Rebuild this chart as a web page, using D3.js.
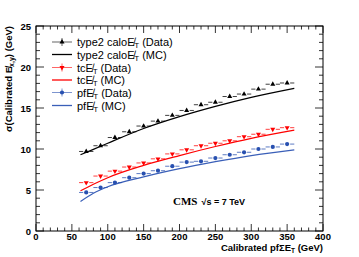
<!DOCTYPE html>
<html>
<head>
<meta charset="utf-8">
<script src="https://cdn.jsdelivr.net/npm/d3@7"></script>
<style>
  body { margin: 0; background: #fff; }
  svg { font-family: "Liberation Sans", Arial, sans-serif; }
</style>
</head>
<body>
<svg id="chart" width="359" height="257"></svg>
<script>
// bin centres of the data points (bin width 20)
const binCenters = [70, 90, 110, 130, 150, 170, 190, 210, 230, 250, 270, 290, 310, 330, 350];
const caloData = [9.7, 10.4, 11.4, 12.1, 12.8, 13.4, 14.1, 14.7, 15.4, 15.7, 16.4, 16.7, 17.3, 17.9, 18.05];
const tcData   = [5.9, 6.7, 7.3, 7.8, 8.3, 8.8, 9.4, 9.9, 10.4, 10.7, 11.0, 11.5, 11.8, 12.4, 12.6];
const pfData   = [4.7, 5.3, 5.9, 6.5, 7.0, 7.35, 7.9, 8.4, 8.5, 8.9, 9.3, 9.6, 10.0, 10.25, 10.6];

// MC curves read at a few points
const mcX    = [62, 80, 100, 150, 200, 250, 300, 360];
const caloMC = [9.3, 9.95, 10.7, 12.5, 13.95, 15.2, 16.3, 17.4];
const tcMC   = [4.9, 5.7, 6.5, 8.0, 9.2, 10.3, 11.3, 12.3];
const pfMC   = [3.6, 4.6, 5.4, 6.6, 7.6, 8.45, 9.2, 9.9];

const xTicks = [0, 50, 100, 150, 200, 250, 300, 350, 400];
const yTicks = [0, 5, 10, 15, 20, 25];

const svg = d3.select('#chart');
const pLeft = 36, pRight = 323, pTop = 26, pBottom = 231;

const x = d3.scaleLinear().domain([0, 400]).range([pLeft, pRight]);
const y = d3.scaleLinear().domain([0, 25]).range([pBottom, pTop]);

// frame
svg.append('rect')
  .attr('x', pLeft).attr('y', pTop)
  .attr('width', pRight - pLeft).attr('height', pBottom - pTop)
  .attr('fill', 'none').attr('stroke', '#000').attr('stroke-width', 1);

// ticks (inward, on all four sides)
const g = svg.append('g').attr('stroke', '#000').attr('stroke-width', 0.8);
d3.range(0, 401, 10).forEach(v => {
  const len = v % 50 === 0 ? 7 : 3.5;
  g.append('line').attr('x1', x(v)).attr('x2', x(v)).attr('y1', pBottom).attr('y2', pBottom - len);
  g.append('line').attr('x1', x(v)).attr('x2', x(v)).attr('y1', pTop).attr('y2', pTop + len);
});
d3.range(0, 25.01, 1).forEach(v => {
  const len = v % 5 === 0 ? 8 : 4;
  g.append('line').attr('y1', y(v)).attr('y2', y(v)).attr('x1', pLeft).attr('x2', pLeft + len);
  g.append('line').attr('y1', y(v)).attr('y2', y(v)).attr('x1', pRight).attr('x2', pRight - len);
});

// tick labels
svg.append('g').selectAll('text').data(xTicks).join('text')
  .attr('x', d => x(d)).attr('y', 240)
  .attr('text-anchor', 'middle')
  .attr('font-size', 9.5).attr('font-weight', 'bold')
  .text(d => d);
svg.append('g').selectAll('text').data(yTicks).join('text')
  .attr('x', 31).attr('y', d => y(d) + 3.5)
  .attr('text-anchor', 'end')
  .attr('font-size', 9.5).attr('font-weight', 'bold')
  .text(d => d);

// axis titles
const xt = svg.append('text')
  .attr('x', pRight).attr('y', 251)
  .attr('text-anchor', 'end')
  .attr('font-size', 9.5).attr('font-weight', 'bold');
xt.append('tspan').text('Calibrated pf\u03A3E');
xt.append('tspan').attr('font-size', 6.5).attr('dy', 2).text('T');
xt.append('tspan').attr('dy', -2).text(' (GeV)');

const yt = svg.append('text')
  .attr('transform', 'translate(12,' + pTop + ') rotate(-90)')
  .attr('text-anchor', 'end')
  .attr('font-size', 9.5).attr('font-weight', 'bold');
yt.append('tspan').text('\u03C3(Calibrated E\u0338');
yt.append('tspan').attr('font-size', 7).attr('dy', 2).text('x,y');
yt.append('tspan').attr('dy', -2).text(') (GeV)');

// series
const series = [
  { data: caloData, mc: caloMC, color: '#000', marker: d3.symbolTriangle, rot: 0 },
  { data: tcData,   mc: tcMC,   color: '#f00', marker: d3.symbolTriangle, rot: 180 },
  { data: pfData,   mc: pfMC,   color: '#2850b0', marker: d3.symbolCircle, rot: 0 }
];
const mcColors = ['#000', '#f00', '#3a5fb8'];

const line = d3.line().x(d => x(d[0])).y(d => y(d[1])).curve(d3.curveMonotoneX);

series.forEach((s, i) => {
  svg.append('path')
    .datum(mcX.map((v, j) => [v, s.mc[j]]))
    .attr('d', line)
    .attr('fill', 'none').attr('stroke', mcColors[i]).attr('stroke-width', 1.2);

  const pts = svg.append('g');
  binCenters.forEach((c, j) => {
    const cx = x(c), cy = y(s.data[j]);
    // horizontal bin-width bars with a gap at the marker
    pts.append('line').attr('x1', x(c - 10)).attr('x2', cx - 3).attr('y1', cy).attr('y2', cy)
      .attr('stroke', s.color).attr('stroke-width', 1).attr('opacity', 0.75);
    pts.append('line').attr('x1', cx + 3).attr('x2', x(c + 10)).attr('y1', cy).attr('y2', cy)
      .attr('stroke', s.color).attr('stroke-width', 1).attr('opacity', 0.75);
    pts.append('path')
      .attr('d', d3.symbol().type(s.marker).size(s.marker === d3.symbolCircle ? 14 : 11)())
      .attr('transform', `translate(${cx},${cy}) rotate(${s.rot})`)
      .attr('fill', s.color);
  });
});

// legend
const legendRows = [
  { label: 'type2 calo', tail: ' (Data)', color: '#000', marker: d3.symbolTriangle, rot: 0, data: true },
  { label: 'type2 calo', tail: ' (MC)', color: '#000', data: false },
  { label: 'tc', tail: ' (Data)', color: '#f00', marker: d3.symbolTriangle, rot: 180, data: true },
  { label: 'tc', tail: ' (MC)', color: '#f00', data: false },
  { label: 'pf', tail: ' (Data)', color: '#2850b0', marker: d3.symbolCircle, rot: 0, data: true },
  { label: 'pf', tail: ' (MC)', color: '#3a5fb8', data: false }
];
const legendY = [42, 54.5, 67.5, 80, 92.5, 105.5];
legendRows.forEach((r, i) => {
  const ly = legendY[i];
  if (r.data) {
    svg.append('line').attr('x1', 52).attr('x2', 72).attr('y1', ly).attr('y2', ly)
      .attr('stroke', r.color).attr('stroke-width', 1).attr('opacity', 0.6);
    svg.append('line').attr('x1', 62).attr('x2', 62).attr('y1', ly - 4).attr('y2', ly + 4)
      .attr('stroke', r.color).attr('stroke-width', 1).attr('opacity', 0.6);
    svg.append('path')
      .attr('d', d3.symbol().type(r.marker).size(r.marker === d3.symbolCircle ? 14 : 11)())
      .attr('transform', `translate(62,${ly}) rotate(${r.rot})`)
      .attr('fill', r.color);
  } else {
    svg.append('line').attr('x1', 52).attr('x2', 72).attr('y1', ly).attr('y2', ly)
      .attr('stroke', r.color).attr('stroke-width', 1.3);
  }
  const t = svg.append('text').attr('x', 77).attr('y', ly + 4).attr('font-size', 11);
  t.append('tspan').text(r.label + 'E\u0338');
  t.append('tspan').attr('font-size', 7.5).attr('dy', 2).text('T');
  t.append('tspan').attr('dy', -2).text(r.tail);
});

// CMS label
const cms = svg.append('text').attr('x', 173).attr('y', 205);
cms.append('tspan').attr('font-family', '"Liberation Serif", "Times New Roman", serif')
  .attr('font-weight', 'bold').attr('font-size', 11).text('CMS');
cms.append('tspan').attr('font-size', 9).attr('font-weight', 'bold').attr('dx', 4).text('\u221As = 7 TeV');
</script>
</body>
</html>
